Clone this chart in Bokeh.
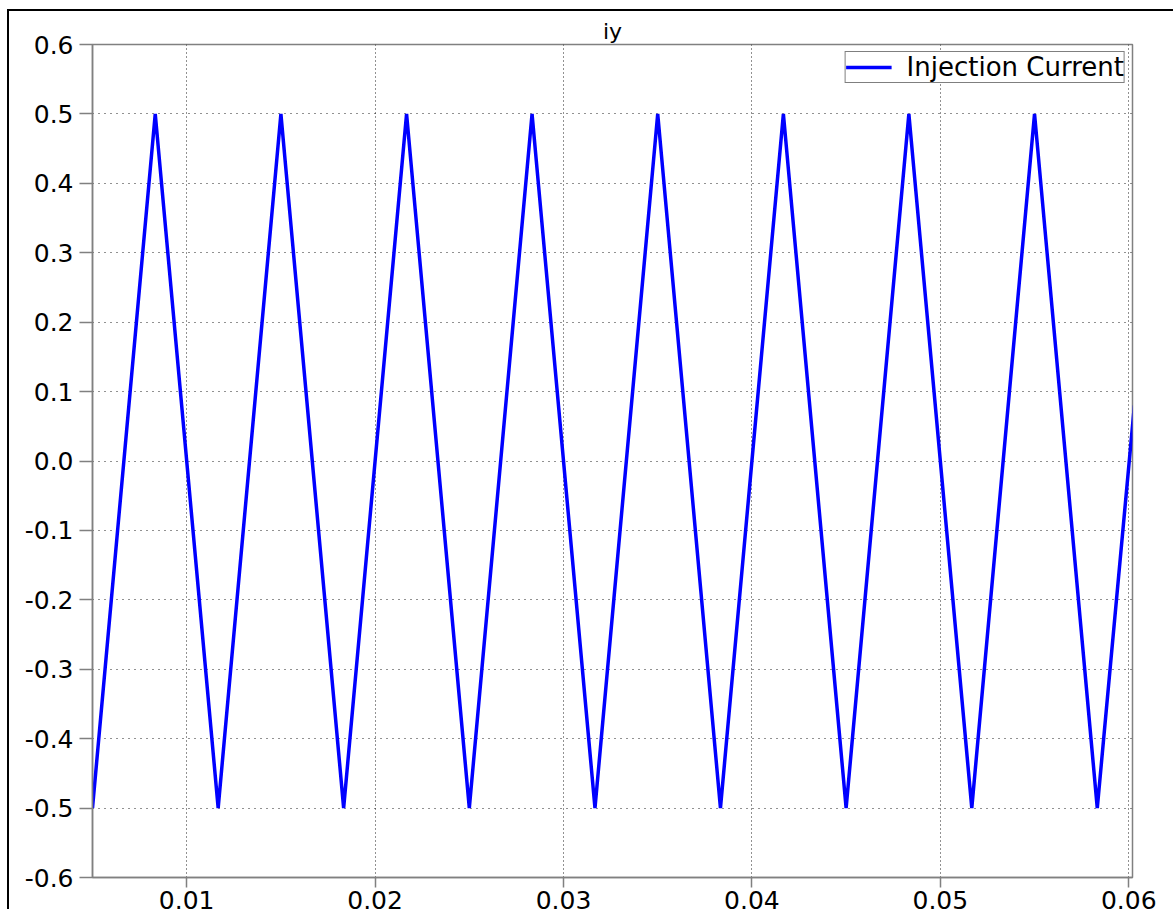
from bokeh.plotting import figure
from bokeh.models import Range1d, FixedTicker, NumeralTickFormatter, Legend, LegendItem
from bokeh.embed import file_html
from bokeh.resources import INLINE

# vertices of the triangular injection current (time in s, current)
t_vals = [0.0050, 0.00833, 0.01167, 0.0150, 0.01833, 0.02167, 0.0250, 0.02833,
          0.03167, 0.0350, 0.03833, 0.04167, 0.0450, 0.04833, 0.05167, 0.0550,
          0.05833, 0.06030]
i_vals = [-0.5, 0.5, -0.5, 0.5, -0.5, 0.5, -0.5, 0.5,
          -0.5, 0.5, -0.5, 0.5, -0.5, 0.5, -0.5, 0.5,
          -0.5, 0.08]

x_ticks = [0.01, 0.02, 0.03, 0.04, 0.05, 0.06]
y_ticks = [-0.6, -0.5, -0.4, -0.3, -0.2, -0.1, 0.0, 0.1, 0.2, 0.3, 0.4, 0.5, 0.6]

FONT = "DejaVu Sans"

p = figure(width=1166, height=900, output_backend="svg", toolbar_location=None,
           x_range=Range1d(0.005, 0.0602), y_range=Range1d(-0.6, 0.6),
           title="iy", min_border_left=83, min_border_top=33,
           min_border_right=43, min_border_bottom=33)
p.styles = {"margin-left": "7px", "margin-top": "9px",
            "border-top": "2px solid black", "border-left": "2px solid black"}

p.title.align = "center"
p.title.text_font = FONT
p.title.text_font_size = "22px"
p.title.text_font_style = "normal"
p.title.text_color = "black"
p.title.offset = 0
p.title.standoff = 2

p.outline_line_color = "#808080"
p.outline_line_width = 1.5

r = p.line(t_vals, i_vals, line_color="#0000FF", line_width=3.5)

for ax in (p.xaxis[0], p.yaxis[0]):
    ax.axis_line_color = "#808080"
    ax.axis_line_width = 1.5
    ax.major_tick_line_color = "#808080"
    ax.major_tick_line_width = 1.5
    ax.minor_tick_line_color = None
    ax.major_tick_in = 0
    ax.major_label_text_font = FONT
    ax.major_label_text_color = "black"
    ax.major_label_text_font_size = "25px"

p.xaxis.ticker = FixedTicker(ticks=x_ticks)
p.xaxis.formatter = NumeralTickFormatter(format="0.00")
p.xaxis.major_tick_out = 10
p.xaxis.major_label_standoff = 3
p.xaxis.major_label_text_line_height = 0.3
p.yaxis.ticker = FixedTicker(ticks=y_ticks)
p.yaxis.formatter = NumeralTickFormatter(format="0.0")
p.yaxis.major_tick_out = 13
p.yaxis.major_label_standoff = 6

p.xgrid.grid_line_color = "#222222"
p.xgrid.grid_line_dash = "1 3"
p.ygrid.grid_line_color = "#222222"
p.ygrid.grid_line_dash = "1 5"
p.xgrid.grid_line_width = 1
p.ygrid.grid_line_width = 1

legend = Legend(items=[LegendItem(label="Injection Current", renderers=[r])],
                location="top_right")
legend.label_text_font = FONT
legend.label_text_font_size = "26px"
legend.label_text_color = "black"
legend.label_standoff = 15
legend.glyph_width = 46
legend.glyph_height = 20
legend.label_height = 20
legend.padding = 0
legend.spacing = 0
legend.margin = 7
legend.border_line_color = "black"
legend.border_line_width = 1
legend.background_fill_alpha = 1
p.add_layout(legend, "center")

open("out.html", "w").write(file_html(p, INLINE))
